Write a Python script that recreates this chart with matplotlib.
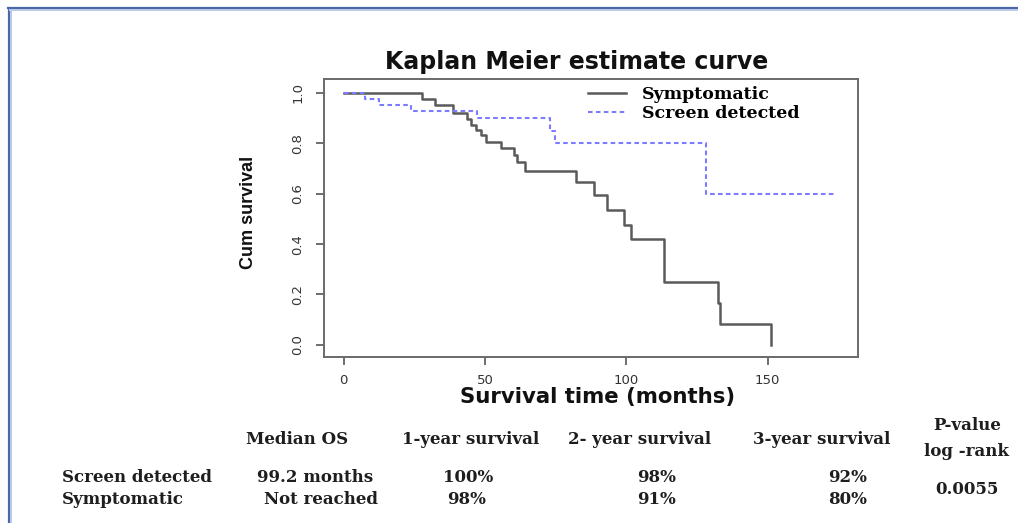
import matplotlib
matplotlib.use("Agg")
import matplotlib.pyplot as plt
from matplotlib.lines import Line2D

# Kaplan-Meier steps (months, cumulative survival)
sym_t = [0, 27.7, 32.4, 38.5, 43.5, 45.0, 46.7, 48.5, 50.2, 55.5, 60.2, 61.4, 64.3,
         82.2, 88.4, 93.1, 99.2, 101.5, 113.3, 132.4, 133.3, 151.2]
sym_s = [1.0, 0.976, 0.950, 0.919, 0.896, 0.873, 0.853, 0.833, 0.807, 0.780, 0.754, 0.727, 0.688,
         0.645, 0.595, 0.536, 0.476, 0.419, 0.249, 0.165, 0.083, 0.0]
scr_t = [0, 7.4, 12.4, 23.8, 47.3, 73.1, 74.6, 128.3, 173.5]
scr_s = [1.0, 0.976, 0.952, 0.927, 0.902, 0.85, 0.80, 0.60, 0.60]

xticks = [0, 50, 100, 150]
yticks = [0.0, 0.2, 0.4, 0.6, 0.8, 1.0]

# summary table under the plot
tbl_head = ["Median OS", "1-year survival", "2- year survival", "3-year survival"]
tbl_rows = ["Screen detected", "Symptomatic"]
tbl_vals = [["99.2 months", "100%", "98%", "92%"],
            ["Not reached", "98%", "91%", "80%"]]
p_value = "0.0055"

W, H = 1018, 523
GRAY, BLUE, INK = "#5a5a5a", "#7b7bff", "#1e1e1e"
SERIF = "DejaVu Serif"
TFS = 12


def fx(px):
    return px / W


def fy(py):
    return 1 - py / H


fig = plt.figure(figsize=(W / 100, H / 100), dpi=100)
ax = fig.add_axes([fx(324), fy(357), fx(858) - fx(324), fy(79) - fy(357)])

ax.step(sym_t, sym_s, where="post", color=GRAY, lw=1.8, label="Symptomatic")
ax.step(scr_t, scr_s, where="post", color=BLUE, lw=1.5, dashes=(2.2, 1.6),
        label="Screen detected")

ax.set_xlim(-7, 182)
ax.set_ylim(-0.048, 1.055)
ax.set_xticks(xticks)
ax.set_xticklabels([str(v) for v in xticks], fontsize=9.5, color="#333333")
ax.set_yticks(yticks)
ax.set_yticklabels([f"{v:.1f}" for v in yticks], fontsize=9.5, color="#333333",
                   rotation=90, va="center")
ax.tick_params(length=6, width=1.2, color="#555555")
ax.tick_params(axis="x", pad=6)
ax.tick_params(axis="y", pad=8)
for s in ax.spines.values():
    s.set_color("#6a6a6a")
    s.set_linewidth(1.4)

ax.set_ylabel("Cum survival", fontsize=13, fontweight="bold", family="Liberation Sans",
              color="#111111")
ax.yaxis.set_label_coords((257 - 324) / 534, 0.52)
ax.set_xlabel("Survival time (months)", fontsize=15.3, fontweight="bold", color="#111111")
ax.xaxis.set_label_coords((598 - 324) / 534, (357 - 397) / 278)
ax.xaxis.label.set_va("center")

fig.text(fx(577), fy(62), "Kaplan Meier estimate curve", ha="center", va="center",
         fontsize=17, fontweight="bold", color="#111111")

ax.legend(loc="upper left", bbox_to_anchor=(fx(588), fy(86)), bbox_transform=fig.transFigure,
          frameon=False, borderpad=0, borderaxespad=0, handlelength=2.2, handletextpad=0.9,
          labelspacing=0.12, prop=dict(family=SERIF, weight="bold", size=12.5))

# table
head_x = [297, 471, 640, 822]
for x, h in zip(head_x, tbl_head):
    fig.text(fx(x), fy(440), h, ha="center", va="center", family=SERIF,
             fontweight="bold", fontsize=TFS, color=INK)
fig.text(fx(967), fy(425), "P-value", ha="center", va="center", family=SERIF,
         fontweight="bold", fontsize=TFS, color=INK)
fig.text(fx(967), fy(452), "log -rank", ha="center", va="center", family=SERIF,
         fontweight="bold", fontsize=TFS, color=INK)

val_x = [[315, 468, 657, 848], [321, 467, 657, 848]]
for ry, name, vals, xs in zip([477, 500], tbl_rows, tbl_vals, val_x):
    fig.text(fx(62), fy(ry), name, ha="left", va="center", family=SERIF,
             fontweight="bold", fontsize=TFS, color=INK)
    for x, v in zip(xs, vals):
        fig.text(fx(x), fy(ry), v, ha="center", va="center", family=SERIF,
                 fontweight="bold", fontsize=TFS, color=INK)
fig.text(fx(967), fy(490), p_value, ha="center", va="center", family=SERIF,
         fontweight="bold", fontsize=TFS, color=INK)

# blue frame (top and left edges of the slide)
for col, off, lw in [("#4868a8", 0, 2.2), ("#b9c9e6", 2.2, 2.0)]:
    fig.add_artist(Line2D([fx(8 + off), 1], [fy(8 + off), fy(8 + off)], color=col, lw=lw * 0.72,
                          transform=fig.transFigure))
    fig.add_artist(Line2D([fx(9 + off), fx(9 + off)], [0, fy(8 + off)], color=col, lw=lw * 0.72,
                          transform=fig.transFigure))

fig.savefig("out.png", dpi=100)
